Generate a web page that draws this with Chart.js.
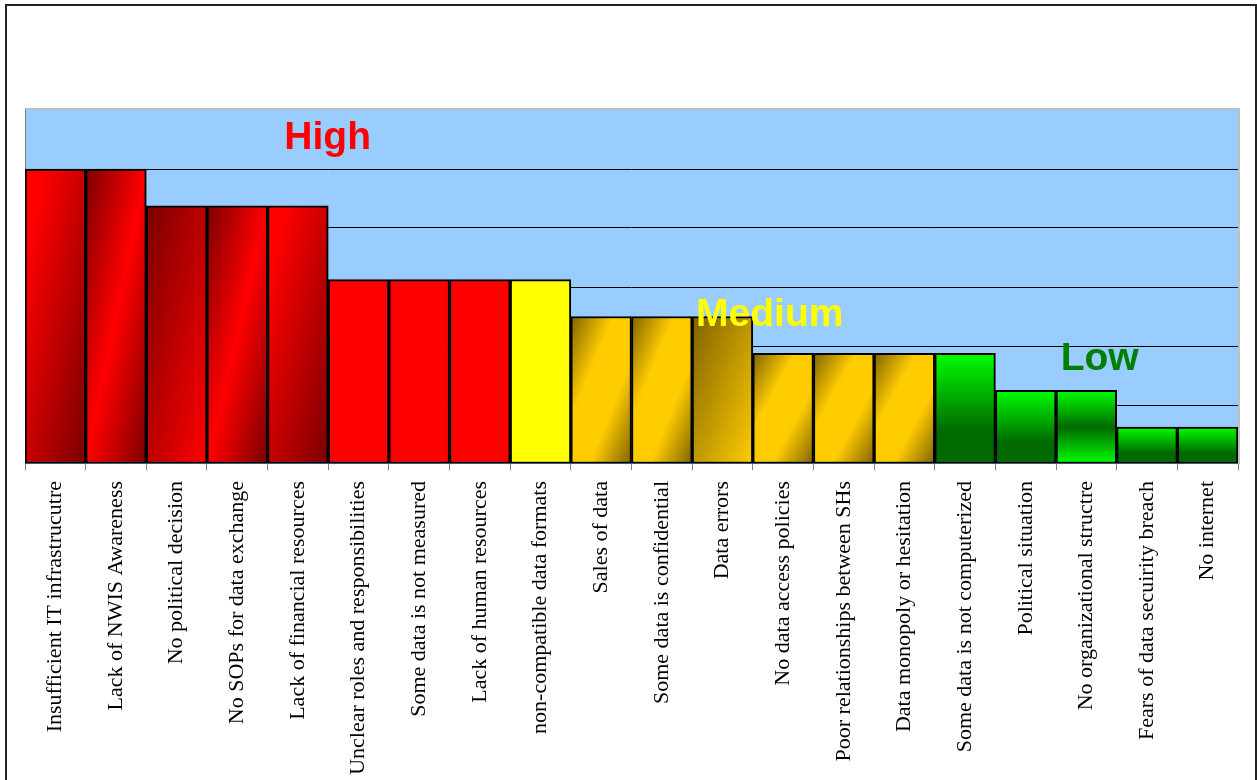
<!DOCTYPE html>
<html>
<head>
<meta charset="utf-8">
<title>Constraints</title>
<script src="https://cdn.jsdelivr.net/npm/chart.js@4"></script>
<style>
    html, body { margin: 0; padding: 0; background: #fff; }
    #wrap { width: 1257px; height: 780px; }
</style>
</head>
<body>
<div id="wrap"><canvas id="constraintsChart" width="1257" height="780"></canvas></div>
<script>
// Constraints, ranked by number of mentions
const categories = [
    'Insufficient IT infrastrucutre',
    'Lack of NWIS Awareness',
    'No political decision',
    'No SOPs for data exchange',
    'Lack of financial resources',
    'Unclear roles and responsibilities',
    'Some data is not measured',
    'Lack of human resources',
    'non-compatible data formats',
    'Sales of data',
    'Some data is confidential',
    'Data errors',
    'No data access policies',
    'Poor relationships between SHs',
    'Data monopoly or hesitation',
    'Some data is not computerized',
    'Political situation',
    'No organizational structre',
    'Fears of data secuirity breach',
    'No internet'
];
const counts = [8, 8, 7, 7, 7, 5, 5, 5, 5, 4, 4, 4, 3, 3, 3, 3, 2, 2, 1, 1];
const gridValues = [0, 1.6, 3.2, 4.8, 6.4, 8, 9.6];

const zoneLabels = ['High', 'Medium', 'Low'];

// fill style of each bar: [light, dark], shading
const RED = ['#FF0000', '#7A0000'];
const GOLD = ['#FFCC00', '#7F6200'];
const GREEN = ['#00FF00', '#006A00'];
const barFills = [
    [RED, 'diag'], [RED, 'diagMid'], [RED, 'diagRev'], [RED, 'diagMid'], [RED, 'diag'],
    [RED, 'solid'], [RED, 'solid'], [RED, 'solid'],
    [['#FFFF00', '#FFFF00'], 'solid'],
    [GOLD, 'diagEdge'], [GOLD, 'diagEdge'], [GOLD, 'diagRev'], [GOLD, 'diagEdge'], [GOLD, 'diagEdge'], [GOLD, 'diagEdge'],
    [GREEN, 'vert'], [GREEN, 'vert'], [GREEN, 'vertMid'], [GREEN, 'vert'], [GREEN, 'vert']
];
const zoneStyle = [
    { color: '#FF0000', at: 4.49, level: 8.54 },
    { color: '#FFFF00', at: 11.78, level: 3.75 },
    { color: '#008000', at: 17.22, level: 2.56 }
];

function barGradient(context) {
    const chart = context.chart;
    const { ctx, chartArea, scales } = chart;
    const i = context.dataIndex;
    const [cols, kind] = barFills[i];
    if (!chartArea) return cols[0];
    const half = scales.x.width / categories.length / 2;
    const cx = scales.x.getPixelForValue(i);
    const x0 = cx - half, w = half * 2;
    const top = scales.y.getPixelForValue(counts[i]);
    const h = scales.y.getPixelForValue(0) - top;
    const [light, dark] = cols;
    if (kind === 'solid') return light;

    let g;
    if (kind === 'vert' || kind === 'vertMid') {
        g = ctx.createLinearGradient(0, top, 0, top + h);
    } else {
        // diagonal shading stretched over the bar like a unit-square gradient
        const gx = 1 / (2 * w), gy = 1 / (2 * h);
        const n = gx * gx + gy * gy;
        g = ctx.createLinearGradient(x0, top, x0 + gx / n, top + gy / n);
    }
    switch (kind) {
        case 'diag':
            g.addColorStop(0, light); g.addColorStop(0.15, light); g.addColorStop(1, dark); break;
        case 'diagRev':
            g.addColorStop(0, dark); g.addColorStop(1, light); break;
        case 'diagMid':
            g.addColorStop(0, dark); g.addColorStop(0.5, light); g.addColorStop(1, dark); break;
        case 'diagEdge':
            g.addColorStop(0, dark); g.addColorStop(0.35, light); g.addColorStop(0.65, light); g.addColorStop(1, dark); break;
        case 'vert':
            g.addColorStop(0, light); g.addColorStop(0.7, dark); g.addColorStop(1, dark); break;
        case 'vertMid':
            g.addColorStop(0, light); g.addColorStop(0.5, dark); g.addColorStop(1, light); break;
    }
    return g;
}

// page frame and plot background
const plotBackground = {
    id: 'plotBackground',
    beforeDraw(chart) {
        const { ctx, chartArea: a } = chart;
        ctx.save();
        ctx.fillStyle = '#fff';
        ctx.fillRect(0, 0, chart.width, chart.height);
        ctx.strokeStyle = '#222';
        ctx.lineWidth = 2;
        ctx.strokeRect(6, 5, 1250, 820);
        ctx.fillStyle = '#99CCFF';
        ctx.fillRect(a.left, a.top, a.right - a.left, a.bottom - a.top);
        ctx.strokeStyle = '#C0C0C0';
        ctx.lineWidth = 2;
        ctx.beginPath();
        ctx.moveTo(a.left, a.top - 1);
        ctx.lineTo(a.right + 1, a.top - 1);
        ctx.lineTo(a.right + 1, a.bottom);
        ctx.stroke();
        ctx.strokeStyle = '#808080';
        ctx.lineWidth = 1;
        ctx.beginPath();
        ctx.moveTo(a.left + 0.5, a.top - 1);
        ctx.lineTo(a.left + 0.5, a.bottom);
        ctx.stroke();
        ctx.restore();
    }
};

// High / Medium / Low captions
const zoneCaptions = {
    id: 'zoneCaptions',
    afterDatasetsDraw(chart) {
        const { ctx, scales } = chart;
        ctx.save();
        ctx.font = 'bold 39px "Liberation Sans", Arial, sans-serif';
        ctx.textAlign = 'center';
        ctx.textBaseline = 'alphabetic';
        zoneLabels.forEach((label, k) => {
            const s = zoneStyle[k];
            ctx.fillStyle = s.color;
            ctx.fillText(label, scales.x.getPixelForValue(s.at), scales.y.getPixelForValue(s.level));
        });
        ctx.restore();
    }
};

new Chart(document.getElementById('constraintsChart'), {
    type: 'bar',
    data: {
        labels: categories,
        datasets: [{
            data: counts,
            backgroundColor: barGradient,
            borderColor: '#000',
            borderWidth: 2,
            borderSkipped: false,
            categoryPercentage: 1,
            barPercentage: 1
        }]
    },
    options: {
        responsive: false,
        animation: false,
        events: [],
        layout: { padding: { top: 110, left: 25, right: 19, bottom: 0 } },
        plugins: {
            legend: { display: false },
            tooltip: { enabled: false }
        },
        scales: {
            x: {
                offset: true,
                afterFit: scale => { scale.height = 316; },
                grid: {
                    offset: true,
                    drawOnChartArea: false,
                    drawTicks: true,
                    tickLength: 6,
                    color: '#808080'
                },
                border: { display: false },
                ticks: {
                    autoSkip: false,
                    minRotation: 90,
                    maxRotation: 90,
                    padding: 11,
                    color: '#000',
                    font: { family: '"Liberation Serif", "Times New Roman", serif', size: 22 }
                }
            },
            y: {
                min: 0,
                max: 9.6,
                afterFit: scale => { scale.width = 0; },
                afterBuildTicks: scale => { scale.ticks = gridValues.map(v => ({ value: v })); },
                grid: {
                    drawTicks: false,
                    color: c => (c.tick.value > 0 && c.tick.value < 9.6) ? '#000' : 'rgba(0,0,0,0)',
                    lineWidth: 1
                },
                border: { display: false },
                ticks: { display: false }
            }
        }
    },
    plugins: [plotBackground, zoneCaptions]
});
</script>
</body>
</html>
